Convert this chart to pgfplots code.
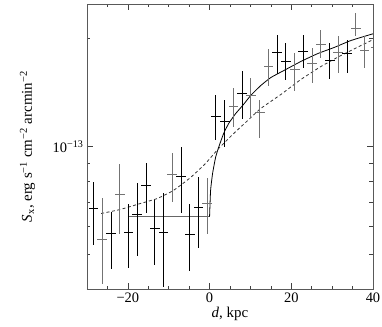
\documentclass[border=0pt]{standalone}
\usepackage{fontspec}
\setmainfont{Liberation Serif}
\usepackage{pgfplots}
\usepackage{pgfplotstable}
\pgfplotsset{compat=1.18}

% surface brightness in units of 1e-13 erg/s/cm2/arcmin2
\pgfplotstableread{
x      y     ep    em
-28.40 0.671 0.127 0.139
-24.12 0.571 0.087 0.115
-19.84 0.575 0.118 0.116
-17.70 0.646 0.147 0.153
-15.56 0.778 0.119 0.124
-13.42 0.590 0.117 0.122
-11.28 0.575 0.169 0.171
-7.00  0.824 0.170 0.170
-4.86  0.568 0.121 0.118
-2.72  0.675 0.149 0.153
1.56   1.213 0.184 0.167
3.70   1.175 0.170 0.175
7.98   1.406 0.224 0.209
16.54  1.830 0.212 0.231
18.68  1.728 0.212 0.199
22.96  1.842 0.200 0.190
29.38  1.739 0.201 0.200
33.66  1.819 0.171 0.210
}\blackpts

\pgfplotstableread{
x      y     ep    em
-26.26 0.550 0.170 0.136
-21.98 0.734 0.157 0.166
-9.14  0.835 0.127 0.137
-0.58  0.693 0.126 0.125
5.84   1.293 0.168 0.163
10.12  1.388 0.170 0.183
12.26  1.245 0.100 0.192
14.40  1.673 0.193 0.202
20.82  1.641 0.189 0.208
25.10  1.705 0.185 0.205
27.24  1.927 0.182 0.165
31.52  1.830 0.199 0.221
35.80  2.136 0.216 0.107
37.94  1.854 0.175 0.202
40.60  1.890 0.110 0.110
}\graypts

\begin{document}
\begin{tikzpicture}
\begin{axis}[
    name=ax,
    scale only axis,
    width=286bp, height=285bp,
    xmin=-30, xmax=40,
    ymode=log,
    ymin=0.4, ymax=2.5,
    xtick={-20,0,20,40},
    xticklabels={−20,0,20,40},
    minor xtick={-25,-15,-10,-5,5,10,15,25,30,35},
    ytick={1},
    yticklabels={10\textsuperscript{−13}},
    minor ytick={0.4,0.5,0.6,0.7,0.8,0.9,2},
    major tick length=6bp,
    minor tick length=3.5bp,
    tick style={black!75, line width=0.7pt},
    axis line style={black!65, line width=0.9pt},
    ticklabel style={font=\fontsize{14.5}{16}\selectfont},
    xlabel={\textit{d}, kpc},
    ylabel={\textit{S}\textsubscript{x}, erg s\textsuperscript{−1} cm\textsuperscript{−2} arcmin\textsuperscript{−2}},
    label style={font=\fontsize{15}{17}\selectfont},
    x label style={at={(axis description cs:0.5,-0.088)}, anchor=center},
    y label style={at={(axis description cs:-0.208,0.5)}, anchor=center},
    clip=true,
]

% flat model level for d<0
\addplot[black!60, line width=0.6pt] coordinates {(-20,0.637) (0,0.637)};

% solid model
\addplot[black, line width=0.8pt, smooth, tension=0.3] coordinates {
    (0,0.637) (0.25,0.754) (0.74,0.841) (1.47,0.932) (2.21,0.994)
    (3.44,1.087) (4.67,1.159) (6.39,1.236) (8.11,1.302) (10.07,1.388)
    (12.53,1.480) (14.99,1.558) (18.18,1.630) (22.36,1.728) (26.54,1.819)
    (30.47,1.890) (34.64,1.978) (40.3,2.069)
};

% dashed model
\addplot[black!80, line width=0.8pt, dash pattern=on 3pt off 2.5pt, smooth, tension=0.3] coordinates {
    (-26.54,0.650) (-21.87,0.667) (-16.95,0.693) (-12.78,0.716) (-8.85,0.754)
    (-4.67,0.819) (-0.98,0.897) (2.21,0.987) (5.90,1.087) (9.34,1.182)
    (12.53,1.277) (17.44,1.397) (22.36,1.539) (27.27,1.673) (32.19,1.796)
    (37.1,1.915) (40.05,1.990)
};

% data
\addplot[draw=none, mark=none,
    error bars/.cd, x dir=both, x fixed=1.2, y dir=both, y explicit,
    error mark=none, error bar style={black, line width=0.9pt}]
    table[x=x, y=y, y error plus=ep, y error minus=em] {\blackpts};

\addplot[draw=none, mark=none,
    error bars/.cd, x dir=both, x fixed=1.2, y dir=both, y explicit,
    error mark=none, error bar style={black!55, line width=0.9pt}]
    table[x=x, y=y, y error plus=ep, y error minus=em] {\graypts};

\end{axis}
\pgfresetboundingbox
\path (ax.south west) ++(-87bp,-38bp) rectangle ++(382bp,327bp);
\end{tikzpicture}
\end{document}
